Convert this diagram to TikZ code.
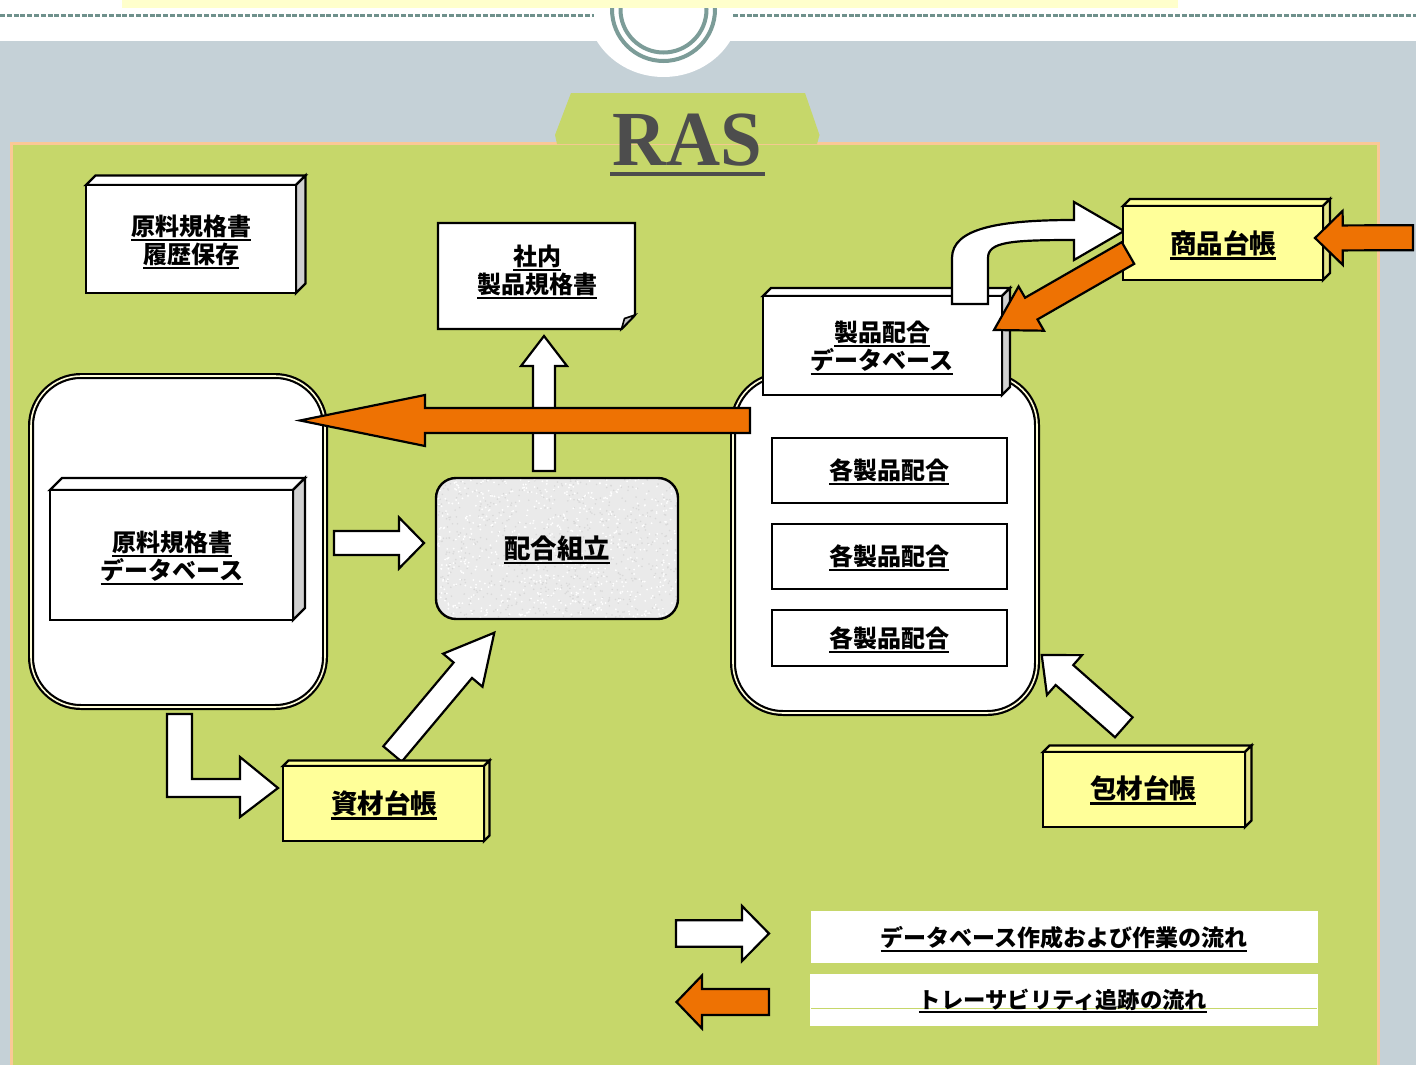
\documentclass[tikz,border=0pt]{standalone}
\usepackage{fontspec}
\setmainfont{Liberation Serif}
\newfontfamily\cjk{Noto Sans CJK JP}
\usetikzlibrary{calc}
\definecolor{bgblue}{HTML}{C5D1D7}
\definecolor{panelg}{HTML}{C6D76A}
\definecolor{panelb}{HTML}{FAC896}
\definecolor{topy}{HTML}{FFFFCC}
\definecolor{ringc}{HTML}{7C9C98}
\definecolor{dashc}{HTML}{6F918C}
\definecolor{orangeA}{HTML}{EE7203}
\definecolor{boxy}{HTML}{FFFF99}
\definecolor{boxys}{HTML}{E4E488}
\definecolor{sideg}{HTML}{D0D0D0}
\definecolor{rasgray}{HTML}{4D4D4D}
\definecolor{granite}{HTML}{EAEAEA}

\newsavebox\ulb
\newcommand\ulx[1]{\sbox\ulb{#1}\rlap{\rule[-0.23em]{\wd\ulb}{0.09em}}\usebox\ulb}

% block arrow: style, tail, tip, shaft half width, head half width, head length
\newcommand\barrow[6]{%
 \draw[#1] let \p1=(#2), \p2=(#3), \n1={atan2(\y2-\y1,\x2-\x1)}, \n2={veclen(\x2-\x1,\y2-\y1)} in
  ($(\p1)+(\n1+90:#4pt)$) --
  ($(\p1)+(\n1:\n2-#6pt)+(\n1+90:#4pt)$) --
  ($(\p1)+(\n1:\n2-#6pt)+(\n1+90:#5pt)$) --
  (\p2) --
  ($(\p1)+(\n1:\n2-#6pt)+(\n1-90:#5pt)$) --
  ($(\p1)+(\n1:\n2-#6pt)+(\n1-90:#4pt)$) --
  ($(\p1)+(\n1-90:#4pt)$) -- cycle;}

% cube: x1,y1,x2,y2 (front face), depth, front fill, side fill
\newcommand\cube[7]{%
 \filldraw[cubeline, fill=#6] (#1,#2) -- ({#1+#5},{#2-#5}) -- ({#3+#5},{#2-#5}) -- (#3,#2) -- cycle;
 \filldraw[cubeline, fill=#7] (#3,#2) -- ({#3+#5},{#2-#5}) -- ({#3+#5},{#4-#5}) -- (#3,#4) -- cycle;
 \filldraw[cubeline, fill=#6] (#1,#2) rectangle (#3,#4);}

\tikzset{
 cubeline/.style={draw=black, line width=2.4pt, line join=miter},
 blk/.style={draw=black, line width=2.4pt},
 warr/.style={draw=black, line width=2.2pt, fill=white, line join=miter},
 oarr/.style={draw=black, line width=2.2pt, fill=orangeA, line join=miter},
 dbl/.style={draw=black, line width=2.2pt, double=white!85!yellow, double distance=1.6pt, fill=white, rounded corners=50pt},
 lbl/.style={font=\cjk\bfseries\fontsize{24}{28}\selectfont, align=center, inner sep=0pt, text=black},
 lblL/.style={font=\cjk\bfseries\fontsize{26.5}{30}\selectfont, align=center, inner sep=0pt, text=black},
 lblS/.style={font=\cjk\bfseries\fontsize{23}{27}\selectfont, align=center, inner sep=0pt, text=black},
}

\begin{document}
\begin{tikzpicture}[x=1pt, y=-1pt]
\useasboundingbox (0,0) rectangle (1416,1065);
\clip (0,0) rectangle (1416,1065);

% ---------- background ----------
\fill[white] (0,0) rectangle (1416,41);
\fill[bgblue] (0,41) rectangle (1416,1065);
\begin{scope}
 \clip (0,38) rectangle (1416,100);
 \fill[white] (663.5,5) ellipse [x radius=77, y radius=72];
\end{scope}
\draw[dashc, line width=3pt, dash pattern=on 5pt off 1.8pt] (0,16) -- (594,16);
\draw[dashc, line width=3pt, dash pattern=on 5pt off 1.8pt] (733,16) -- (1416,16);
\draw[ringc, line width=4pt] (663.5,9.5) circle (51.5);
\draw[ringc, line width=4pt] (663.5,9.5) circle (43);
\fill[topy] (122,0) rectangle (1178,8);

% panel and tab
\filldraw[fill=panelg, draw=panelb, line width=3pt] (11,143) rectangle (1378,1080);
\fill[panelg] (571,93) -- (805,93) -- (819.5,135) -- (817,144) -- (557,144) -- (555,135) -- cycle;
\node[font=\bfseries\fontsize{78}{80}\selectfont, text=rasgray, inner sep=0pt, anchor=base] (ras) at (687,165) {\scalebox{0.96}[1]{RAS}};
\fill[rasgray] (610,172.3) rectangle (765,175.8);

% ---------- left column ----------
\cube{86}{185}{296}{293}{9.5}{white}{sideg}
\node[lbl] (hist) at (191,242) {\ulx{原料規格書}\\\ulx{履歴保存}};

\draw[dbl] (31,376) rectangle (325,707);
\cube{50}{490}{293}{620}{12}{white}{sideg}
\node[lbl] (gendb) at (172,558) {\ulx{原料規格書}\\\ulx{データベース}};

% note shape
\filldraw[cubeline, fill=white] (438,223) -- (635,223) -- (635,315) -- (621.5,329) -- (438,329) -- cycle;
\filldraw[draw=black, line width=1.6pt, fill=gray!45, line join=miter] (621.5,329) -- (624.5,318.5) -- (635,315) -- cycle;
\node[lbl] (spec) at (537,272) {\ulx{社内}\\\ulx{製品規格書}};

% arrow from assembly up to spec
\coordinate (bT) at (544,471); \coordinate (bH) at (544,336);
\barrow{warr}{bT}{bH}{11}{23}{30}

% ---------- right container ----------
\draw[dbl] (733,375) rectangle (1037,713);
\filldraw[blk, fill=white] (772,438) rectangle (1007,503);
\filldraw[blk, fill=white] (772,524) rectangle (1007,589);
\filldraw[blk, fill=white] (772,610) rectangle (1007,666);
\node[lbl] (each1) at (889,472) {\ulx{各製品配合}};
\node[lbl] (each2) at (889,558) {\ulx{各製品配合}};
\node[lbl] (each3) at (889,640) {\ulx{各製品配合}};

% big orange arrow to the left
\coordinate (cT) at (750,420.5); \coordinate (cH) at (300,420.5);
\barrow{oarr}{cT}{cH}{12.5}{25.5}{125}

% product formulation database
\cube{763}{296}{1002}{395}{8}{white}{sideg}
\node[lbl] (proddb) at (882,348) {\ulx{製品配合}\\\ulx{データベース}};

% curved white arrow to goods ledger
\filldraw[warr] (952,304) -- (952,258) .. controls (952,228) and (1000,220) .. (1074,220) -- (1074,202) -- (1124,231) -- (1074,260) -- (1074,240) .. controls (1010,240) and (988,242) .. (988,258) -- (988,304) -- cycle;

% goods ledger
\cube{1123}{206}{1323}{280}{7}{boxy}{boxys}
\node[lblL] (goods) at (1223,245) {\ulx{商品台帳}};

\coordinate (gT) at (1128,253); \coordinate (gH) at (994,330);
\barrow{oarr}{gT}{gH}{12.5}{25.5}{43}
\coordinate (hT) at (1413,237.7); \coordinate (hH) at (1315,238);
\barrow{oarr}{hT}{hH}{12.5}{27}{27.7}

% ---------- assembly ----------
\begin{scope}
 \clip[rounded corners=20pt] (436,478) rectangle (678,619);
 \fill[granite] (436,478) rectangle (678,619);
 \pgfmathsetseed{3}
 \foreach \i in {1,...,700}{%
   \pgfmathsetmacro\rx{436+242*rnd}\pgfmathsetmacro\ry{478+141*rnd}%
   \fill[gray!30] (\rx,\ry) circle (0.9pt);}
 \foreach \i in {1,...,700}{%
   \pgfmathsetmacro\rx{436+242*rnd}\pgfmathsetmacro\ry{478+141*rnd}%
   \fill[white] (\rx,\ry) circle (1pt);}
\end{scope}
\draw[blk, rounded corners=20pt] (436,478) rectangle (678,619);
\node[lblL] (assy) at (557,550) {\ulx{配合組立}};

\coordinate (aT) at (334,543); \coordinate (aH) at (424,543);
\barrow{warr}{aT}{aH}{12}{25.5}{25}

% L-shaped arrow to material ledger
\filldraw[warr] (167,714) -- (192,714) -- (192,779) -- (240,779) -- (240,757) -- (278,788) -- (240,817) -- (240,797) -- (167,797) -- cycle;

\coordinate (dT) at (392.5,754); \coordinate (dH) at (494.3,632.7);
\barrow{warr}{dT}{dH}{12}{25.7}{49}

\cube{283}{766}{484}{841}{5.5}{boxy}{boxys}
\node[lblL] (mat) at (384,805) {\ulx{資材台帳}};

\coordinate (fT) at (1123.8,727.3); \coordinate (fH) at (1041.7,655);
\barrow{warr}{fT}{fH}{13.3}{26.5}{30}

\cube{1043}{752}{1245}{827}{6.5}{boxy}{boxys}
\node[lblL] (pack) at (1143,790) {\ulx{包材台帳}};

% ---------- legend ----------
\coordinate (l1T) at (676,933.5); \coordinate (l1H) at (769,933.5);
\barrow{warr}{l1T}{l1H}{13.3}{27.5}{27}
\coordinate (l2T) at (769,1002); \coordinate (l2H) at (676.5,1002);
\barrow{oarr}{l2T}{l2H}{13}{26.5}{25.5}
\fill[white] (811,911) rectangle (1318,963);
\fill[white] (810,974) rectangle (1318,1026);
\draw[panelg, line width=1pt] (811,1008.3) -- (1317,1008.3);
\node[lblS] (leg1) at (1064,939) {\ulx{データベース作成および作業の流れ}};
\node[lblS, font=\cjk\bfseries\fontsize{22.3}{26}\selectfont] (leg2) at (1063,1001) {\ulx{トレーサビリティ追跡の流れ}};
\end{tikzpicture}
\end{document}
